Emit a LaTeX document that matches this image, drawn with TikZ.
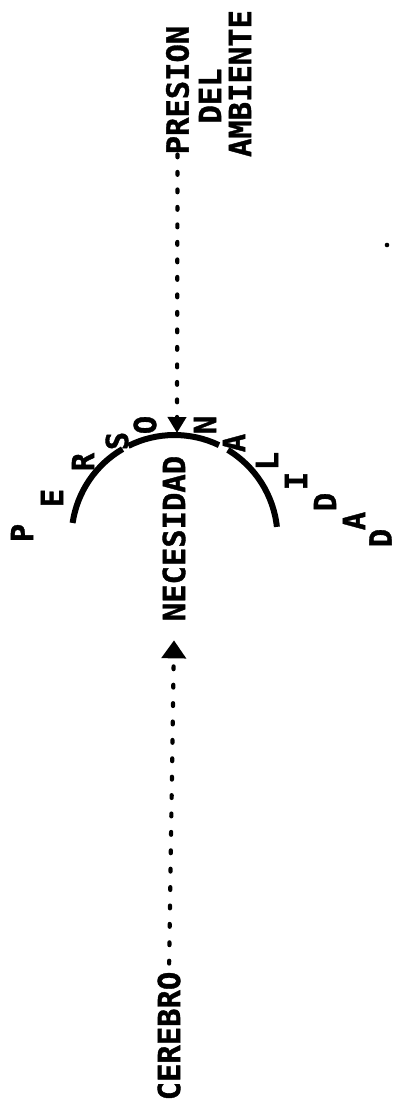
\documentclass[tikz,border=0pt]{standalone}
\usepackage{fontspec}
\newfontfamily\tw[BoldFeatures={FakeBold=1.2}]{DejaVu Sans Mono}
\usetikzlibrary{arrows.meta,calc}
\tikzset{
  lbl/.style={font=\tw\bfseries\fontsize{30.5}{34}\selectfont, rotate=90, inner sep=0pt},
  dotline/.style={line width=4.2pt, line cap=round},
  arcline/.style={line width=6pt, line cap=butt},
}
\begin{document}
\begin{tikzpicture}[x=1pt,y=-1pt]
\fill[white] (0,0) rectangle (397,1109);
\useasboundingbox (0,0) rectangle (397,1109);
% labels
\node[lbl] (presion) at (177.5,90) {PRESION};
\node[lbl] (del) at (210,96) {DEL};
\node[lbl] (ambiente) at (240,83.5) {AMBIENTE};
\node[lbl, inner xsep=19pt] (necesidad) at (174,538.5) {NECESIDAD};
\node[lbl] (cerebro) at (169,1036) {CEREBRO};
% personalidad arc
\coordinate (c) at (174.5,538);
\coordinate (arctop) at (177,433);
\draw[arcline] ($(c)+(-171.6:103)$) arc[start angle=-171.6, end angle=-120.3, radius=103];
\draw[arcline] ($(c)+(-116.6:103)$) arc[start angle=-116.6, end angle=-64.4, radius=103];
\draw[arcline] ($(c)+(-58.8:103)$) arc[start angle=-58.8, end angle=-6.2, radius=103];
% letters
\node[lbl] (l1) at (22,533) {P};
\node[lbl] (l2) at (52,498) {E};
\node[lbl] (l3) at (83,462) {R};
\node[lbl] (l4) at (117,441) {S};
\node[lbl] (l5) at (145,425) {O};
\node[lbl] (l6) at (205,425) {N};
\node[lbl] (l7) at (234,443) {A};
\node[lbl] (l8) at (267,461) {L};
\node[lbl] (l9) at (296,481) {I};
\node[lbl] (l10) at (325,502) {D};
\node[lbl] (l11) at (354,521) {A};
\node[lbl] (l12) at (380.5,538) {D};
% connectors
\draw[dotline, dash pattern=on 2.8pt off 14.7pt, -{Triangle[length=16pt,width=18pt]}] (presion.west) -- (arctop);
\draw[dotline, dash pattern=on 2.8pt off 15.6pt, dash phase=10.4pt, -{Triangle[length=18pt,width=24pt]}] (cerebro.east) -- (necesidad.west);
% stray dot
\fill (387,245) circle[radius=2.3];
\end{tikzpicture}
\end{document}
